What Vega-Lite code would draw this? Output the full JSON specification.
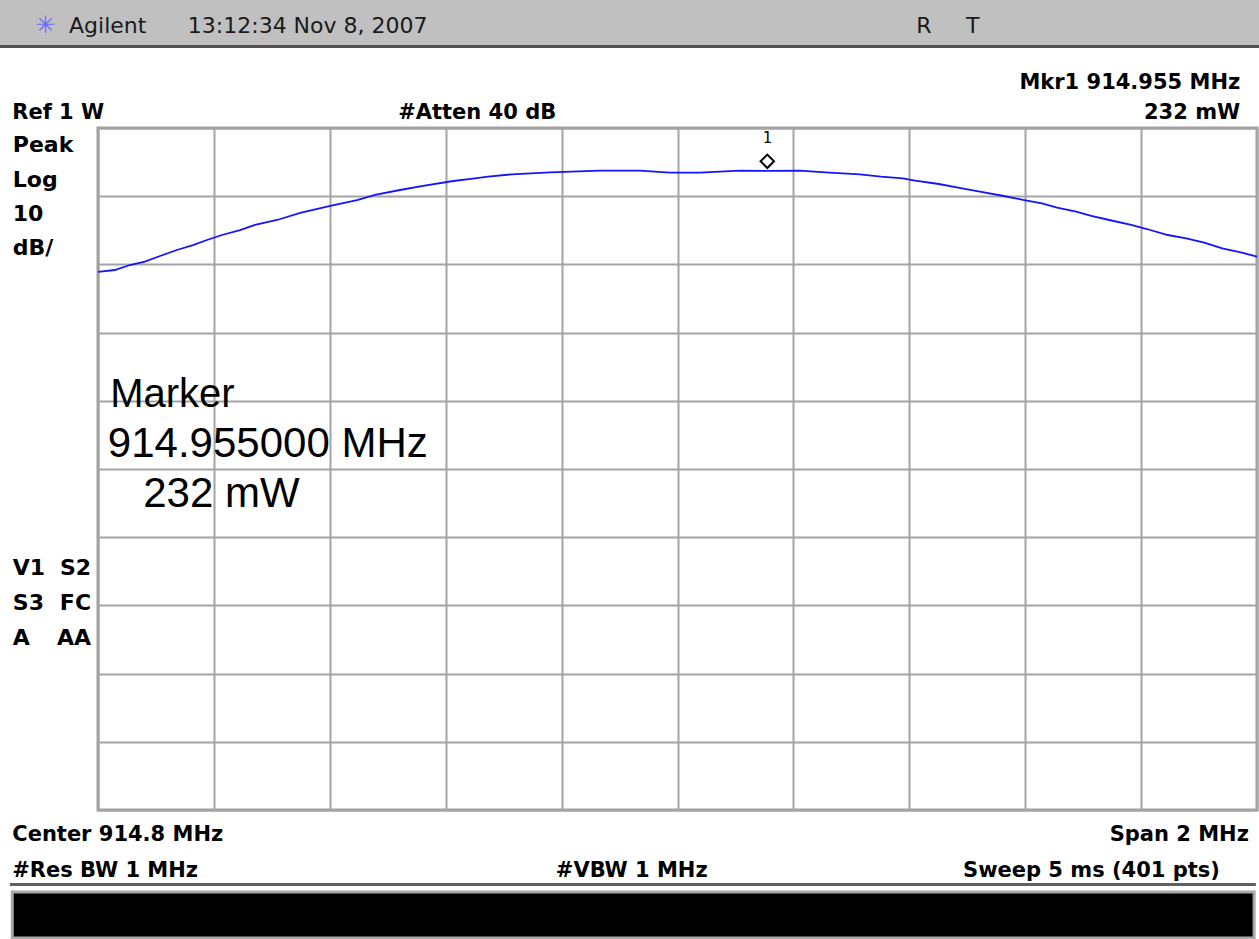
{
  "$schema": "https://vega.github.io/schema/vega-lite/v6.json",
  "autosize": {"type": "none"},
  "width": 1159,
  "height": 682,
  "padding": {"left": 98, "top": 128, "right": 2, "bottom": 129},
  "background": "white",
  "config": {"view": {"stroke": "#a0a0a0", "strokeWidth": 3}},
  "datasets": {
    "trace": [
      {"f": 913.800, "p": 8.89}, {"f": 913.829, "p": 9.18}, {"f": 913.855, "p": 9.91},
      {"f": 913.881, "p": 10.42}, {"f": 913.907, "p": 11.23}, {"f": 913.936, "p": 12.11},
      {"f": 913.964, "p": 12.84}, {"f": 913.988, "p": 13.58}, {"f": 914.014, "p": 14.31},
      {"f": 914.045, "p": 15.04}, {"f": 914.071, "p": 15.78}, {"f": 914.109, "p": 16.51},
      {"f": 914.149, "p": 17.54}, {"f": 914.199, "p": 18.56}, {"f": 914.247, "p": 19.44},
      {"f": 914.278, "p": 20.18}, {"f": 914.321, "p": 20.91}, {"f": 914.361, "p": 21.50},
      {"f": 914.413, "p": 22.23}, {"f": 914.447, "p": 22.57}, {"f": 914.473, "p": 22.86},
      {"f": 914.514, "p": 23.21}, {"f": 914.580, "p": 23.50}, {"f": 914.666, "p": 23.74},
      {"f": 914.735, "p": 23.74}, {"f": 914.787, "p": 23.47}, {"f": 914.839, "p": 23.47},
      {"f": 914.908, "p": 23.74}, {"f": 914.954, "p": 23.70}, {"f": 915.011, "p": 23.74},
      {"f": 915.055, "p": 23.50}, {"f": 915.115, "p": 23.21}, {"f": 915.151, "p": 22.86},
      {"f": 915.189, "p": 22.62}, {"f": 915.210, "p": 22.27}, {"f": 915.251, "p": 21.79},
      {"f": 915.291, "p": 21.16}, {"f": 915.329, "p": 20.57}, {"f": 915.363, "p": 20.03},
      {"f": 915.398, "p": 19.44}, {"f": 915.429, "p": 18.96}, {"f": 915.455, "p": 18.31},
      {"f": 915.488, "p": 17.73}, {"f": 915.514, "p": 17.10}, {"f": 915.545, "p": 16.51},
      {"f": 915.583, "p": 15.78}, {"f": 915.610, "p": 15.19}, {"f": 915.646, "p": 14.31},
      {"f": 915.678, "p": 13.83}, {"f": 915.709, "p": 13.18}, {"f": 915.740, "p": 12.36},
      {"f": 915.774, "p": 11.72}, {"f": 915.800, "p": 11.13}
    ],
    "marker": [{"f": 914.955, "p": 23.655, "lbl": "1"}],
    "bands": [
      {"k": "hdrbg", "f": 913.622, "f2": 915.814, "p": 49.502, "p2": 42.170},
      {"k": "hdrline", "f": 913.622, "f2": 915.814, "p": 42.170, "p2": 41.730},
      {"k": "ftrline", "f": 913.648, "f2": 915.798, "p": -80.704, "p2": -81.144},
      {"k": "ftr", "f": 913.652, "f2": 915.795, "p": -82.024, "p2": -88.769}
    ],
    "notes": [
      {"k": "logo", "f": 913.709, "p": 43.930, "t": "✳"},
      {"k": "hdr", "f": 913.750, "p": 43.930, "t": "Agilent"},
      {"k": "hdr", "f": 913.955, "p": 43.930, "t": "13:12:34  Nov 8, 2007"},
      {"k": "hdr", "f": 915.212, "p": 43.930, "t": "R"},
      {"k": "hdr", "f": 915.298, "p": 43.930, "t": "T"},
      {"k": "boldL", "f": 913.652, "p": 31.320, "t": "Ref 1 W"},
      {"k": "boldL", "f": 914.318, "p": 31.320, "t": "#Atten 40 dB"},
      {"k": "boldL", "f": 913.652, "p": -74.546, "t": "Center 914.8 MHz"},
      {"k": "boldL", "f": 913.652, "p": -79.824, "t": "#Res BW 1 MHz"},
      {"k": "boldL", "f": 914.590, "p": -79.824, "t": "#VBW 1 MHz"},
      {"k": "boldR", "f": 915.771, "p": 35.718, "t": "Mkr1  914.955 MHz"},
      {"k": "boldR", "f": 915.771, "p": 31.320, "t": "232 mW"},
      {"k": "boldR", "f": 915.786, "p": -74.546, "t": "Span 2 MHz"},
      {"k": "boldR", "f": 915.736, "p": -79.824, "t": "Sweep 5 ms (401 pts)"},
      {"k": "sideL", "f": 913.653, "p": 26.481, "t": "Peak"},
      {"k": "sideL", "f": 913.653, "p": 21.349, "t": "Log"},
      {"k": "sideL", "f": 913.653, "p": 16.364, "t": "10"},
      {"k": "sideL", "f": 913.653, "p": 11.378, "t": "dB/"},
      {"k": "sideL", "f": 913.653, "p": -35.543, "t": "V1"},
      {"k": "sideL", "f": 913.653, "p": -40.675, "t": "S3"},
      {"k": "sideL", "f": 913.653, "p": -45.807, "t": "A"},
      {"k": "sideR", "f": 913.788, "p": -35.543, "t": "S2"},
      {"k": "sideR", "f": 913.788, "p": -40.675, "t": "FC"},
      {"k": "sideR", "f": 913.788, "p": -45.807, "t": "AA"},
      {"k": "big1", "f": 913.821, "p": -10.909, "t": "Marker"},
      {"k": "big2", "f": 913.817, "p": -18.241, "t": "914.955000 MHz"},
      {"k": "big2", "f": 913.878, "p": -25.572, "t": "232 mW"}
    ]
  },
  "encoding": {
    "x": {
      "field": "f", "type": "quantitative",
      "scale": {"domain": [913.8, 915.8], "nice": false, "zero": false},
      "axis": {"values": [913.8, 914.0, 914.2, 914.4, 914.6, 914.8, 915.0, 915.2, 915.4, 915.6, 915.8],
               "grid": true, "gridColor": "#a4a4a4", "gridWidth": 2, "gridOpacity": 1,
               "labels": false, "ticks": false, "domain": false, "title": null}
    },
    "y": {
      "field": "p", "type": "quantitative",
      "scale": {"domain": [-70, 30], "nice": false, "zero": false},
      "axis": {"values": [-70, -60, -50, -40, -30, -20, -10, 0, 10, 20, 30],
               "grid": true, "gridColor": "#a4a4a4", "gridWidth": 2, "gridOpacity": 1,
               "labels": false, "ticks": false, "domain": false, "title": null}
    }
  },
  "layer": [
    {"data": {"name": "bands"}, "transform": [{"filter": "datum.k === 'hdrbg'"}],
     "mark": {"type": "rect", "fill": "#c0c0c0"},
     "encoding": {"x2": {"field": "f2"}, "y2": {"field": "p2"}}},
    {"data": {"name": "bands"}, "transform": [{"filter": "datum.k === 'hdrline'"}],
     "mark": {"type": "rect", "fill": "#505050"},
     "encoding": {"x2": {"field": "f2"}, "y2": {"field": "p2"}}},
    {"data": {"name": "bands"}, "transform": [{"filter": "datum.k === 'ftrline'"}],
     "mark": {"type": "rect", "fill": "#606060"},
     "encoding": {"x2": {"field": "f2"}, "y2": {"field": "p2"}}},
    {"data": {"name": "bands"}, "transform": [{"filter": "datum.k === 'ftr'"}],
     "mark": {"type": "rect", "fill": "#000000", "stroke": "#a8a8a8", "strokeWidth": 3},
     "encoding": {"x2": {"field": "f2"}, "y2": {"field": "p2"}}},
    {"data": {"name": "trace"},
     "mark": {"type": "line", "color": "#1414ff", "strokeWidth": 1.8}},
    {"data": {"name": "marker"},
     "mark": {"type": "point", "shape": "diamond", "filled": false, "stroke": "#000000", "strokeWidth": 2, "size": 180, "opacity": 1, "yOffset": -10}},
    {"data": {"name": "marker"},
     "mark": {"type": "text", "font": "DejaVu Sans Mono", "fontSize": 15, "baseline": "middle", "align": "center", "dy": -33, "color": "#000000"},
     "encoding": {"text": {"field": "lbl"}}},
    {"data": {"name": "notes"}, "transform": [{"filter": "datum.k === 'logo'"}],
     "mark": {"type": "text", "font": "DejaVu Sans", "fontSize": 24, "align": "center", "baseline": "alphabetic", "color": "#6a6aff"},
     "encoding": {"text": {"field": "t"}}},
    {"data": {"name": "notes"}, "transform": [{"filter": "datum.k === 'hdr'"}],
     "mark": {"type": "text", "font": "DejaVu Sans", "fontSize": 22, "align": "left", "baseline": "alphabetic", "color": "#1a1a1a"},
     "encoding": {"text": {"field": "t"}}},
    {"data": {"name": "notes"}, "transform": [{"filter": "datum.k === 'boldL'"}],
     "mark": {"type": "text", "font": "DejaVu Sans", "fontWeight": "bold", "fontSize": 21, "align": "left", "baseline": "alphabetic", "color": "#000000"},
     "encoding": {"text": {"field": "t"}}},
    {"data": {"name": "notes"}, "transform": [{"filter": "datum.k === 'boldR'"}],
     "mark": {"type": "text", "font": "DejaVu Sans", "fontWeight": "bold", "fontSize": 21, "align": "right", "baseline": "alphabetic", "color": "#000000"},
     "encoding": {"text": {"field": "t"}}},
    {"data": {"name": "notes"}, "transform": [{"filter": "datum.k === 'sideL'"}],
     "mark": {"type": "text", "font": "DejaVu Sans", "fontWeight": "bold", "fontSize": 22, "align": "left", "baseline": "alphabetic", "color": "#000000"},
     "encoding": {"text": {"field": "t"}}},
    {"data": {"name": "notes"}, "transform": [{"filter": "datum.k === 'sideR'"}],
     "mark": {"type": "text", "font": "DejaVu Sans", "fontWeight": "bold", "fontSize": 22, "align": "right", "baseline": "alphabetic", "color": "#000000"},
     "encoding": {"text": {"field": "t"}}},
    {"data": {"name": "notes"}, "transform": [{"filter": "datum.k === 'big1'"}],
     "mark": {"type": "text", "font": "Liberation Sans", "fontSize": 40, "align": "left", "baseline": "alphabetic", "color": "#000000"},
     "encoding": {"text": {"field": "t"}}},
    {"data": {"name": "notes"}, "transform": [{"filter": "datum.k === 'big2'"}],
     "mark": {"type": "text", "font": "Liberation Sans", "fontSize": 42, "align": "left", "baseline": "alphabetic", "color": "#000000"},
     "encoding": {"text": {"field": "t"}}}
  ]
}
